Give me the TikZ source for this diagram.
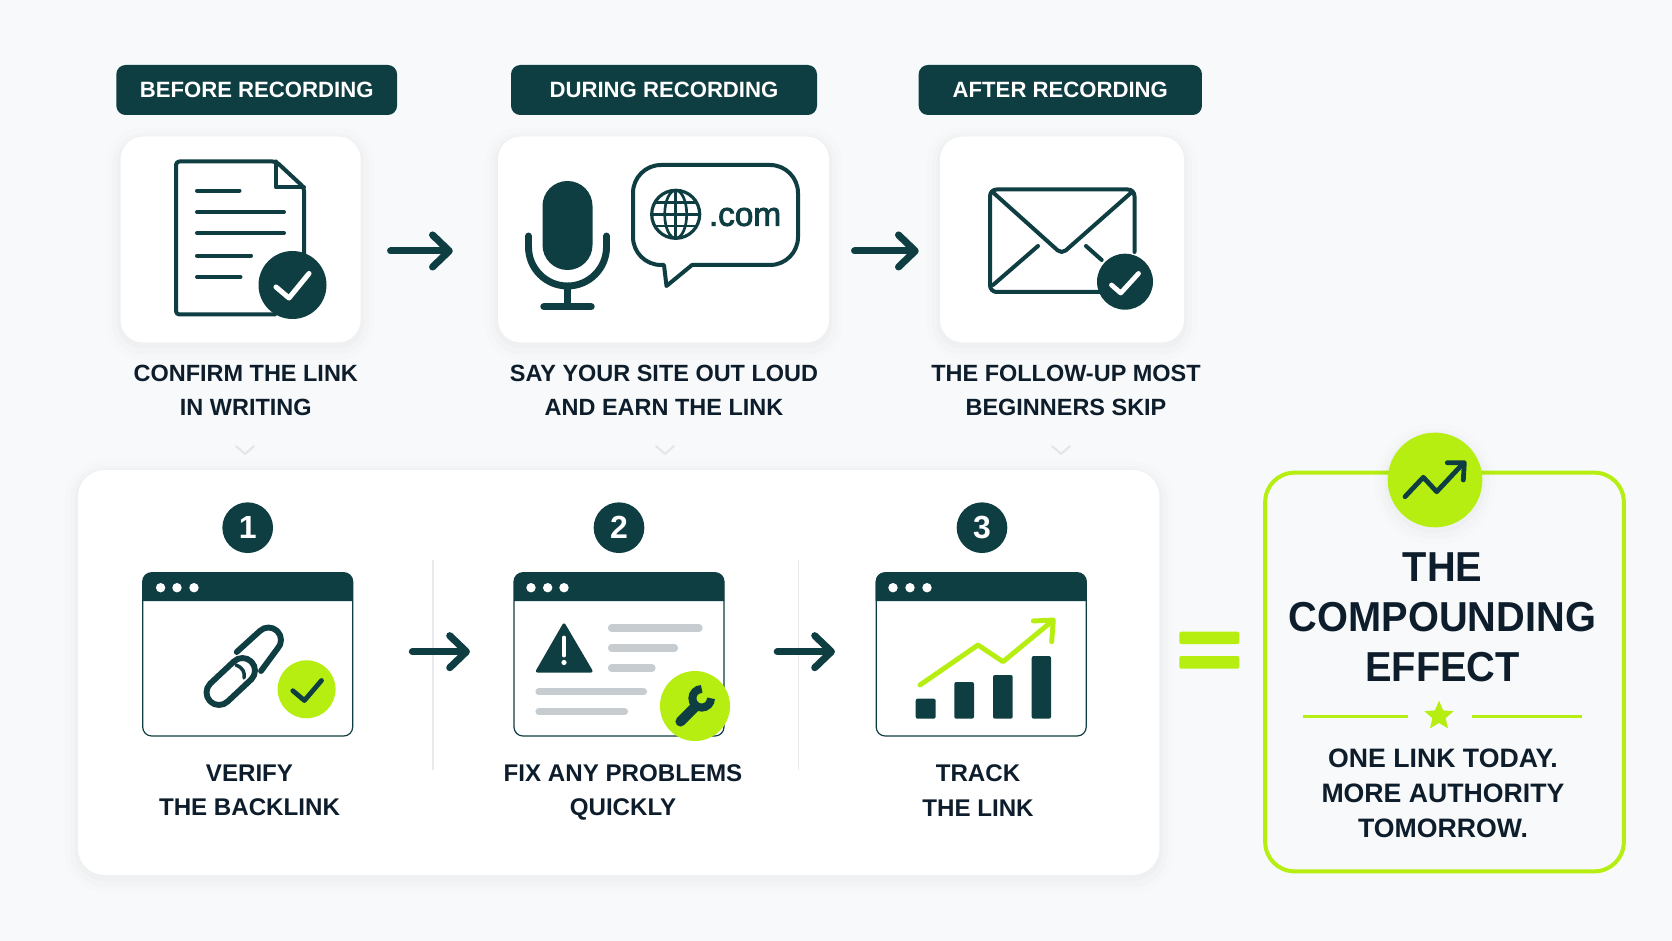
\documentclass[tikz,border=0pt]{standalone}
\usepackage{fontspec}
\setmainfont{Liberation Sans}
\newfontfamily\heavyface{Liberation Sans}[FakeBold=2.5]
\newfontfamily\titleface{Liberation Sans}[FakeStretch=0.95]
\usetikzlibrary{arrows.meta,shapes.geometric}

\definecolor{paperbg}{HTML}{F7F9FA}
\definecolor{darkteal}{HTML}{0F3E42}
\definecolor{inkblue}{HTML}{0E1D2B}
\definecolor{limegreen}{HTML}{B6EE12}
\definecolor{barshade}{HTML}{C6CCCF}
\definecolor{hairgrey}{HTML}{E7EBED}
\definecolor{chevgrey}{HTML}{E2E6E8}

\tikzset{
	softshadow/.style={
		preaction={draw=black,draw opacity=.008,line width=20pt,transform canvas={yshift=-3pt}},
		preaction={draw=black,draw opacity=.012,line width=12pt,transform canvas={yshift=-3pt}},
		preaction={draw=black,draw opacity=.016,line width=5pt,transform canvas={yshift=-2pt}}},
	whitecard/.style={fill=white,rounded corners=17pt,inner sep=0pt,softshadow},
	pill/.style={fill=darkteal,rounded corners=7pt,inner sep=0pt,minimum height=37.5pt,text=white,font=\bfseries\fontsize{16.6}{20}\selectfont},
	caption/.style={text=inkblue,align=center,inner sep=0.75pt,font=\bfseries\fontsize{17.6}{25.3}\selectfont},
	lowcaption/.style={caption,font=\bfseries\fontsize{18.1}{25.8}\selectfont},
	numdot/.style={circle,fill=darkteal,text=white,minimum size=38pt,inner sep=0pt,font=\bfseries\fontsize{24}{24}\selectfont},
	winframe/.style={draw=darkteal,line width=0.9pt,fill=white,rounded corners=6.75pt,inner sep=0pt,minimum width=157.5pt,minimum height=122.5pt},
	iconline/.style={draw=darkteal,line width=3pt,line cap=round,line join=round},
	flowarrow/.style={draw=darkteal,line width=5.3pt,line cap=round,-{Straight Barb[length=12.5pt,width=24pt,line width=5.3pt,round]}},
	graybar/.style={draw=barshade,line width=5.4pt,line cap=round},
	tinychev/.style={draw=chevgrey,line width=1.5pt,line cap=round,line join=round}
}

\begin{document}
\begin{tikzpicture}[x=0.75pt,y=0.75pt,yscale=-1,xscale=1]
		\useasboundingbox (0,0) rectangle (1672,941);
		%Background
		\fill [paperbg] (0,0) rectangle (1672,941);

		%Headers
		\node (pillBefore) [pill,minimum width=210.6pt] at (256.7,90) {BEFORE RECORDING};
		\node (pillDuring) [pill,minimum width=229.5pt] at (664,90) {DURING RECORDING};
		\node (pillAfter) [pill,minimum width=212.5pt] at (1060.3,90) {AFTER RECORDING};

		%Top cards
		\node (cardBefore) [whitecard,minimum width=180pt,minimum height=154.5pt] at (240.6,239.5) {};
		\node (cardDuring) [whitecard,minimum width=248.2pt,minimum height=154.5pt] at (663.5,239.5) {};
		\node (cardAfter) [whitecard,minimum width=183pt,minimum height=154.5pt] at (1062,239.5) {};

		%Document icon
		\draw [iconline,rounded corners=2.5pt] (304,270) -- (304,187.5) -- (276,161.5) -- (176,161.5) -- (176,314.5) -- (275,314.5) ;
		\draw [iconline] (276,161.5) -- (276,187.5) -- (304,187.5) ;
		\draw [iconline] (197,190.7) -- (239.5,190.7) ;
		\draw [iconline] (197,212) -- (284,212) ;
		\draw [iconline] (197,233) -- (284,233) ;
		\draw [iconline] (197,255.7) -- (251,255.7) ;
		\draw [iconline] (197,277) -- (240.5,277) ;
		\fill [darkteal] (292.5,285) circle [radius=34] ;
		\draw [draw=white,line width=3.8pt,line cap=round,line join=round] (276,287) -- (289,298) -- (309,273.5) ;

		%Microphone icon
		\fill [darkteal,rounded corners=18.7pt] (542.5,181) rectangle (592.5,270) ;
		\draw [iconline,line width=5.2pt] (528.5,236) -- (528.5,247) arc (180:0:39) -- (606.5,236) ;
		\draw [iconline,line width=5pt] (567.5,286) -- (567.5,306.7) ;
		\draw [iconline,line width=5.6pt] (544,306.7) -- (591,306.7) ;

		%Speech bubble
		\draw [iconline] (692,265) -- (770,265) arc (90:0:28) -- (798,193) arc (0:-90:28) -- (661,165) arc (-90:-180:28) -- (633,237) arc (180:90:28) -- (664,265) -- (666.5,286) -- cycle ;
		\draw [iconline,line width=2.4pt] (675.7,214.3) circle [radius=24] ;
		\draw [iconline,line width=2pt] (675.7,214.3) ellipse [x radius=11,y radius=24] ;
		\draw [iconline,line width=2pt] (675.7,190.3) -- (675.7,238.3) ;
		\draw [iconline,line width=2pt] (651.7,214.3) -- (699.7,214.3) ;
		\draw [iconline,line width=2pt] (655,202.5) -- (696.4,202.5) ;
		\draw [iconline,line width=2pt] (655,226) -- (696.4,226) ;
		\node (dotCom) [text=darkteal,inner sep=0pt,font=\heavyface\fontsize{25}{24}\selectfont] at (745,217) {.com};

		%Envelope icon
		\draw [iconline,rounded corners=5pt] (1100,292) -- (990,292) -- (990,189.5) -- (1134.5,189.5) -- (1134.5,252) ;
		\draw [iconline,rounded corners=4pt] (992,191.5) -- (1061.7,254) -- (1132.5,191.5) ;
		\draw [iconline] (993,285) -- (1038,246) ;
		\draw [iconline] (1086,246) -- (1101.7,260) ;
		\fill [darkteal] (1125,281.7) circle [radius=28] ;
		\draw [draw=white,line width=3.6pt,line cap=round,line join=round] (1111.5,285) -- (1120.7,293) -- (1138.5,273.5) ;

		%Top arrows
		\draw [flowarrow,shorten <=22.3pt,shorten >=33.75pt] ([yshift=8.6pt]cardBefore.east) -- ([yshift=8.6pt]cardDuring.west) ;
		\draw [flowarrow,shorten <=19pt,shorten >=15.75pt] ([yshift=8.6pt]cardDuring.east) -- ([yshift=8.6pt]cardAfter.west) ;

		% Text Node
		\node (capConfirm) [caption] at (245.8,390.5) {CONFIRM THE LINK\\IN WRITING};
		\node (capSay) [caption] at (664,390.5) {SAY YOUR SITE OUT LOUD\\AND EARN THE LINK};
		\node (capFollow) [caption] at (1066,390.5) {THE FOLLOW-UP MOST\\BEGINNERS SKIP};

		%Small chevrons
		\draw [tinychev] (236,446) -- (245,454) -- (254,446) ;
		\draw [tinychev] (656,446) -- (665,454) -- (674,446) ;
		\draw [tinychev] (1052,446) -- (1061,454) -- (1070,446) ;

		%Bottom panel
		\node (panelSteps) [whitecard,rounded corners=20pt,minimum width=811pt,minimum height=303.75pt] at (618.7,672.5) {};
		\draw [draw=hairgrey,line width=0.8pt] (433,560) -- (433,770) ;
		\draw [draw=hairgrey,line width=0.8pt] (798.7,560) -- (798.7,770) ;

		%Step numbers
		\node (numOne) [numdot] at (247.7,527.7) {1};
		\node (numTwo) [numdot] at (619,527.7) {2};
		\node (numThree) [numdot] at (982,527.7) {3};

		%Window 1
		\node (winVerify) [winframe] at (247.7,654.35) {};
		\fill [darkteal] (142.8,601) -- (142.8,581.7) arc (180:270:9) -- (343.6,572.7) arc (270:360:9) -- (352.6,601) -- cycle ;
		\fill [white] (160.6,587.7) circle [radius=4.7] (177,587.7) circle [radius=4.7] (194,587.7) circle [radius=4.7] ;
		\draw [iconline,line width=4.4pt] (236.7,652) -- (259.66,631.16) arc (225:405:12.5) -- (261,671) ;
		\draw [iconline,line width=4.4pt] (233.66,661.66) arc (225:405:12.5) -- (227.84,701.34) arc (45:225:12.5) -- cycle ;
		\draw [iconline,line width=2.6pt] (236,665) .. controls (243,668) and (245,672) .. (244,678) ;
		\fill [limegreen] (306.6,689.3) circle [radius=29] ;
		\draw [iconline,line width=3.6pt] (292.8,690.7) -- (304.4,700.5) -- (321.5,680.5) ;

		%Window 2
		\node (winFix) [winframe] at (619,654.35) {};
		\fill [darkteal] (514,601) -- (514,581.7) arc (180:270:9) -- (715,572.7) arc (270:360:9) -- (724,601) -- cycle ;
		\fill [white] (531,587.7) circle [radius=4.7] (547.7,587.7) circle [radius=4.7] (564,587.7) circle [radius=4.7] ;
		\draw [darkteal,fill=darkteal,line width=2.4pt,line join=round] (564,625) -- (591,671) -- (537.5,671) -- cycle ;
		\draw [white,line width=2.8pt,line cap=round] (564,637.5) -- (564,655.5) ;
		\fill [white] (564,662.5) circle [radius=2.6] ;
		\draw [graybar] (611.5,628) -- (699,628) ;
		\draw [graybar] (611.5,648) -- (674.5,648) ;
		\draw [graybar] (611.5,668) -- (652,668) ;
		\draw [graybar] (539,691.7) -- (643.5,691.7) ;
		\draw [graybar] (539,711.7) -- (624.5,711.7) ;
		\fill [limegreen] (695,706) circle [radius=35] ;
		\draw [darkteal,line width=7.6pt,line cap=round] (680.5,721.5) -- (695,707) ;
		\draw [darkteal,line width=6pt] (711,698.3) arc (0:270:9.3) ;

		%Window 3
		\node (winTrack) [winframe] at (981.2,654.35) {};
		\fill [darkteal] (875.7,601) -- (875.7,581.7) arc (180:270:9) -- (1077.7,572.7) arc (270:360:9) -- (1086.7,601) -- cycle ;
		\fill [white] (893,587.7) circle [radius=4.7] (910,587.7) circle [radius=4.7] (927,587.7) circle [radius=4.7] ;
		\fill [darkteal,rounded corners=1.5pt] (915.7,698.7) rectangle (935.7,718.7) ;
		\fill [darkteal,rounded corners=1.5pt] (954.3,682) rectangle (974,718.7) ;
		\fill [darkteal,rounded corners=1.5pt] (993,675) rectangle (1012.7,718.7) ;
		\fill [darkteal,rounded corners=1.5pt] (1031.7,656) rectangle (1051,718.7) ;
		\draw [draw=limegreen,line width=3.7pt,line cap=round,line join=round] (920,685) -- (978,645) -- (1003,661.7) -- (1052.7,620.7) ;
		\draw [draw=limegreen,line width=3.7pt,line cap=round,line join=round] (1033.3,621) -- (1053.3,620) -- (1051.7,641.7) ;

		%Bottom arrows
		\draw [flowarrow,shorten <=44.3pt,shorten >=32.6pt] ([yshift=-2pt]winVerify.east) -- ([yshift=-2pt]winFix.west) ;
		\draw [flowarrow,shorten <=39.5pt,shorten >=30.5pt] ([yshift=-2pt]winFix.east) -- ([yshift=-2pt]winTrack.west) ;

		% Text Node
		\node (capVerify) [lowcaption] at (249.5,790.5) {VERIFY\\THE BACKLINK};
		\node (capFix) [lowcaption] at (623,792.7) {FIX ANY PROBLEMS\\QUICKLY};
		\node (capTrack) [lowcaption] at (978,790.5) {TRACK\\THE LINK};

		%Equals sign
		\fill [limegreen,rounded corners=1.5pt] (1179.3,631.7) rectangle (1239.3,644) ;
		\fill [limegreen,rounded corners=1.5pt] (1179.3,656) rectangle (1239.3,668.7) ;

		%Result card
		\node (cardEffect) [draw=limegreen,line width=3pt,rounded corners=22pt,inner sep=0pt,minimum width=269pt,minimum height=299pt] at (1444.5,672) {};
		\node (badgeTrend) [circle,fill=limegreen,minimum size=71pt,inner sep=0pt,softshadow] at (1435,480) {};
		\draw [iconline,line width=3.6pt] (1405,496.7) -- (1423.3,477.3) -- (1436.7,491.7) -- (1463.3,463.3) ;
		\draw [iconline,line width=3.6pt] (1447.3,462.7) -- (1464.3,462.7) -- (1463.3,480) ;

		% Text Node
		\node (titleEffect) [text=inkblue,align=center,inner sep=0pt,font=\titleface\bfseries\fontsize{31.4}{37.3}\selectfont] at (1442.5,617.5) {THE\\COMPOUNDING\\EFFECT};
		\draw [draw=limegreen,line width=1.9pt] (1303.3,716.7) -- (1408.3,716.7) ;
		\draw [draw=limegreen,line width=1.9pt] (1471.7,716.7) -- (1582.3,716.7) ;
		\node (starMark) [star,star points=5,star point ratio=2.2,fill=limegreen,inner sep=0pt,minimum size=23pt] at (1439,716) {};
		\node (subEffect) [text=inkblue,align=center,inner sep=0pt,font=\bfseries\fontsize{20}{26.25}\selectfont] at (1443,793.3) {ONE LINK TODAY.\\MORE AUTHORITY\\TOMORROW.};

	\end{tikzpicture}
\end{document}
